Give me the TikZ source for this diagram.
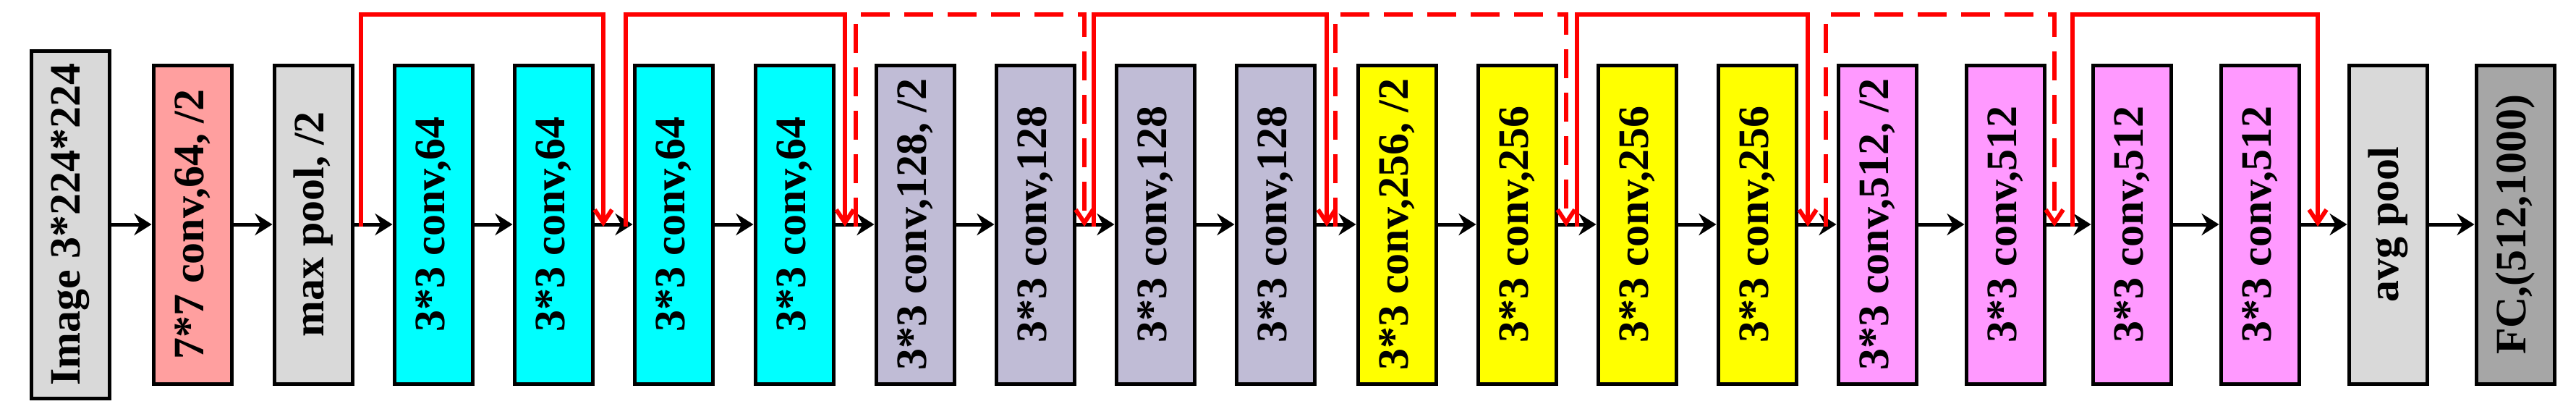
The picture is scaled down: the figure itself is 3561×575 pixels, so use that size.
\documentclass[tikz,border=0pt]{standalone}
\usepackage{fontspec}
\setmainfont{Liberation Serif}
\usetikzlibrary{arrows.meta}
\definecolor{csalmon}{HTML}{FF9F9F}
\definecolor{clgray}{HTML}{D9D9D9}
\definecolor{ccyan}{HTML}{00FFFF}
\definecolor{clav}{HTML}{C0BCD6}
\definecolor{cyel}{HTML}{FFFF00}
\definecolor{cpink}{HTML}{FF99FF}
\definecolor{cdgray}{HTML}{A6A6A6}
\definecolor{cred}{HTML}{FF0000}
\tikzset{
  box/.style={draw=black, line width=2.5pt, minimum width=54pt, minimum height=220pt, inner sep=0pt, anchor=center},
  lbl/.style={rotate=90, font=\fontsize{30}{30}\selectfont\bfseries, inner sep=0pt},
  flow/.style={line width=2.5pt, -{Stealth[length=12pt,width=15pt,inset=4pt]}},
  skip/.style={cred, line width=3pt, -{Straight Barb[length=9pt,width=12pt]}, line cap=butt},
  skipdash/.style={skip, dash pattern=on 20pt off 10pt}
}
\begin{document}
\begin{tikzpicture}[x=0.5pt,y=-0.5pt]
\useasboundingbox (0,0) rectangle (3561,575);
\node[box, fill=clgray, minimum height=240pt] (b0) at (97.5,310) {};
\node[lbl] (t0) at (b0) {Image 3*224*224};
\foreach \i/\x/\c/\t in {
 1/210/csalmon/{7*7 conv,64, /2},
 2/377/clgray/{max pool, /2},
 3/543/ccyan/{3*3 conv,64},
 4/709/ccyan/{3*3 conv,64},
 5/875/ccyan/{3*3 conv,64},
 6/1042/ccyan/{3*3 conv,64},
 7/1209/clav/{3*3 conv,128, /2},
 8/1375/clav/{3*3 conv,128},
 9/1541/clav/{3*3 conv,128},
 10/1707/clav/{3*3 conv,128},
 11/1875/cyel/{3*3 conv,256, /2},
 12/2041/cyel/{3*3 conv,256},
 13/2207/cyel/{3*3 conv,256},
 14/2373/cyel/{3*3 conv,256},
 15/2539/cpink/{3*3 conv,512, /2},
 16/2716/cpink/{3*3 conv,512},
 17/2891/cpink/{3*3 conv,512},
 18/3068/cpink/{3*3 conv,512},
 19/3245/clgray/{avg pool},
 20/3421/cdgray/{FC,(512,1000)}}{
  \node[box, fill=\c] (b\i) at (\x+56,310) {};
  \node[lbl] (t\i) at (b\i) {\t};
}
\foreach \i [evaluate=\i as \j using int(\i+1)] in {0,...,19}{
  \draw[flow] (b\i.east) -- (b\j.west);
}
% skip connections
\foreach \k/\s/\e in {1/499/834,2/865/1168,3/1183/1499,4/1512/1834,5/1846/2165,6/2180/2499,7/2524/2840,8/2865/3204}{
  \coordinate (s\k) at (\s,313);
  \coordinate (e\k) at (\e,313);
}
\foreach \k/\st in {1/skip,2/skip,3/skipdash,4/skip,5/skipdash,6/skip,7/skipdash,8/skip}{
  \draw[\st] (s\k) -- ++(0,-293) -| (e\k);
}
\end{tikzpicture}
\end{document}
